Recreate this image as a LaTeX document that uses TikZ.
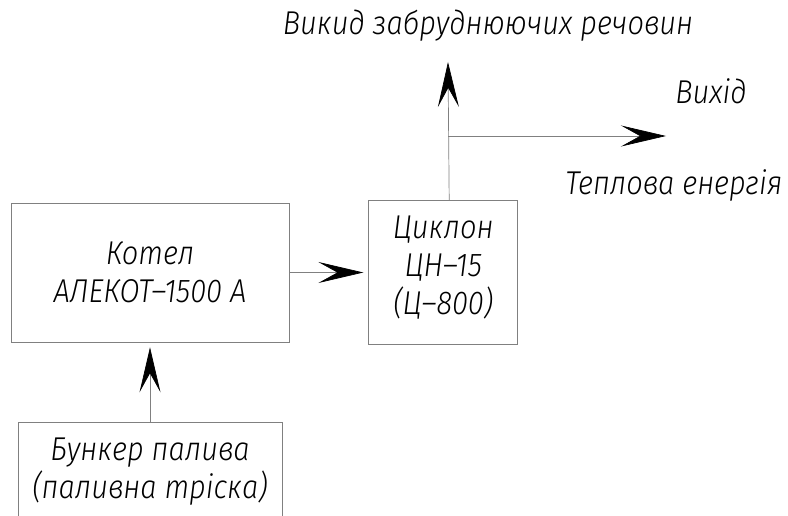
\documentclass[tikz,border=0pt]{standalone}
\usepackage{fontspec}
\newfontfamily\gostfont{Fira Sans Light Italic}[FakeStretch=0.88]
\usepackage{tikz}
\usetikzlibrary{arrows.meta,shapes,positioning}

\begin{document}
\begin{tikzpicture}[x=1pt,y=-1pt,
    every node/.style={font=\gostfont\fontsize{33}{38}\selectfont},
    block/.style={draw=gray,line width=0.7pt,align=center,inner sep=0pt},
    flow/.style={draw=gray,line width=0.7pt,-{Stealth[length=45pt,width=21pt,inset=19pt,color=black]}}]
    \useasboundingbox (0,0) rectangle (788,516);
    \node[block,minimum width=278pt,minimum height=139pt] (kotel) at (150,272.5) {Котел\\АЛЕКОТ–1500 А};
    \node[block,minimum width=149pt,minimum height=144pt,right=79pt of kotel] (cyclone) {Циклон\\ЦН–15\\(Ц–800)\\[-23pt]};
    \node[block,minimum width=264pt,minimum height=98pt,below=80pt of kotel] (bunker) {Бункер палива\\(паливна тріска)};
    \coordinate (outlet) at ([xshift=6pt]cyclone.north);
    \coordinate (fork) at (448,136);
    \coordinate (emission) at (448,62);
    \coordinate (heat) at (666,136);

    \draw[flow,shorten >=5pt] (kotel) -- (cyclone);
    \draw[flow,shorten >=5pt] (bunker) -- (kotel);
    \draw[flow] (outlet) -- (emission);
    \draw[flow] (fork) -- (heat);

    \node (emlabel) at (488,26) {Викид забруднюючих речовин};
    \node (outlabel) at (711,91) {Вихід};
    \node (heatlabel) at (674,185) {Теплова енергія};
\end{tikzpicture}
\end{document}
